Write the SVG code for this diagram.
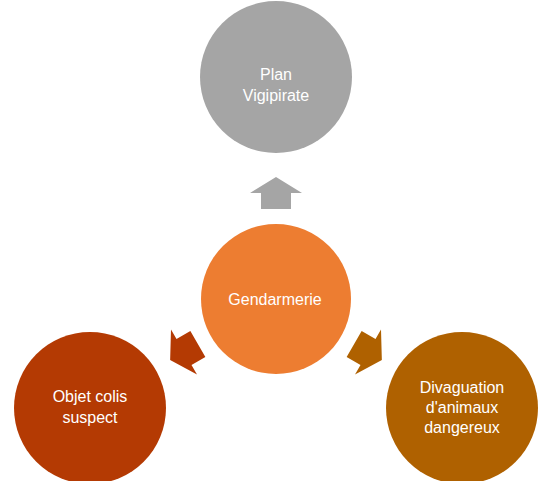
<svg xmlns="http://www.w3.org/2000/svg" width="539" height="481" viewBox="0 0 539 481">
  <defs>
    <style>
      .lbl { font-family: "Liberation Sans", Arial, sans-serif; font-size: 16px; fill: #ffffff; text-anchor: middle; }
    </style>
    <!-- block arrow pointing up, centred on the origin -->
    <polygon id="blockArrow" points="0,-16 26,0 15,0 15,16 -15,16 -15,0 -26,0"/>
  </defs>
  <rect width="539" height="481" fill="#ffffff"/>

  <g id="connectors">
    <use href="#blockArrow" fill="#A5A5A5" transform="translate(276,193)"/>
    <use href="#blockArrow" fill="#B43A03" transform="translate(184,352) rotate(-120)"/>
    <use href="#blockArrow" fill="#AF6100" transform="translate(368,352) rotate(120)"/>
  </g>

  <g id="plan-vigipirate">
    <circle cx="276" cy="77" r="76" fill="#A5A5A5"/>
    <text class="lbl" x="276" y="80">Plan</text>
    <text class="lbl" x="276" y="101">Vigipirate</text>
  </g>

  <g id="gendarmerie">
    <circle cx="276" cy="299" r="75" fill="#ED7D31"/>
    <text class="lbl" x="275" y="305">Gendarmerie</text>
  </g>

  <g id="objet-colis-suspect">
    <circle cx="90" cy="408" r="76" fill="#B43A03"/>
    <text class="lbl" x="90" y="402">Objet colis</text>
    <text class="lbl" x="90" y="423">suspect</text>
  </g>

  <g id="divagation-animaux">
    <circle cx="462" cy="408" r="76" fill="#AF6100"/>
    <text class="lbl" x="462" y="393">Divaguation</text>
    <text class="lbl" x="462" y="413">d'animaux</text>
    <text class="lbl" x="462" y="433">dangereux</text>
  </g>
</svg>
